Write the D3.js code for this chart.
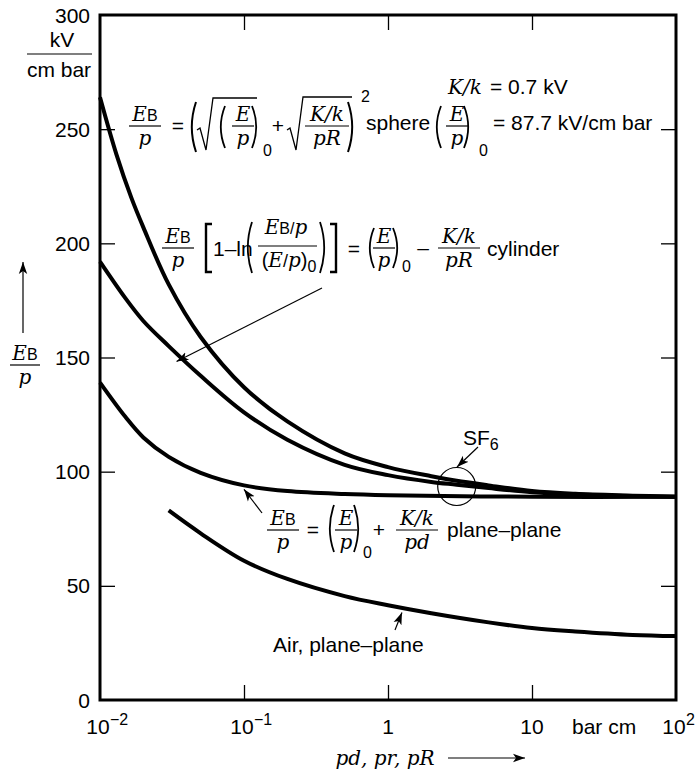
<!DOCTYPE html>
<html>
<head>
<meta charset="utf-8">
<script src="https://cdn.jsdelivr.net/npm/d3@7"></script>
<style>
  body { margin: 0; background: #fff; }
  text { font-family: "Liberation Sans", Arial, sans-serif; fill: #000; }
  .m { font-family: "DejaVu Serif", serif; font-style: italic; }
</style>
</head>
<body>
<script>
// breakdown field strength E_B/p (kV/cm bar) against pd, pr, pR (bar cm)
const sphereX = [0.01, 0.013, 0.0165, 0.02, 0.03, 0.05, 0.1, 0.2, 0.5, 1, 2, 3, 5, 10, 20, 50, 100];
const sphereY = [264, 239, 220, 207, 182, 159, 137, 122, 108, 102, 98, 96, 94, 91.5, 90.3, 89.5, 89];

const cylX = [0.01, 0.015, 0.02, 0.03, 0.05, 0.1, 0.2, 0.5, 1, 2, 3, 5, 10, 20, 50, 100];
const cylY = [192, 176, 166, 155, 142, 126, 114, 103, 98.5, 95.5, 94.3, 92.8, 91, 90, 89.3, 89];

const planeX = [0.01, 0.015, 0.02, 0.03, 0.05, 0.1, 0.2, 0.5, 1, 10, 100];
const planeY = [139, 124, 115, 106.5, 99.5, 94, 91.5, 90.2, 89.7, 89, 89];

const airX = [0.03, 0.05, 0.1, 0.2, 0.5, 1, 2, 5, 10, 20, 50, 100];
const airY = [83, 73, 61, 53, 45.5, 41.5, 38, 34, 31.5, 30, 28.5, 28];

const xTicks = [0.01, 0.1, 1, 10, 100];
const xTickBase = ["10", "10", "1", "10", "10"];
const xTickExp = ["\u22122", "\u22121", "", "", "2"];
const yTicks = [0, 50, 100, 150, 200, 250, 300];

const w = 695;
const h = 771;
const pLeft = 100, pRight = 676, pTop = 15, pBottom = 700;
const fs = 21;   // sans text size
const ms = 20;   // math italic size

const svg = d3.select("body")
        .append("svg")
        .attr("width", w)
        .attr("height", h);

const defs = svg.append("defs");
defs.append("marker")
    .attr("id", "head")
    .attr("viewBox", "0 0 10 10")
    .attr("refX", 10).attr("refY", 5)
    .attr("markerWidth", 12).attr("markerHeight", 12)
    .attr("markerUnits", "userSpaceOnUse")
    .attr("orient", "auto")
    .append("path").attr("d", "M0,1.5 L10,5 L0,8.5 L2.5,5 Z").attr("fill", "#000");

const xScale = d3.scaleLog().domain([0.01, 100]).range([pLeft, pRight]);
const yScale = d3.scaleLinear().domain([0, 300]).range([pBottom, pTop]);

// axes: ticks point inward on all four sides
const tick = 15;
svg.append("g").attr("transform", "translate(0," + pBottom + ")")
  .call(d3.axisBottom(xScale).tickValues(xTicks.slice(1, 4)).tickSize(-tick).tickFormat(""));
svg.append("g").attr("transform", "translate(0," + pTop + ")")
  .call(d3.axisTop(xScale).tickValues(xTicks.slice(1, 4)).tickSize(-tick).tickFormat(""));
svg.append("g").attr("transform", "translate(" + pLeft + ",0)")
  .call(d3.axisLeft(yScale).tickValues(yTicks.slice(1, 6)).tickSize(-tick).tickFormat(""));
svg.append("g").attr("transform", "translate(" + pRight + ",0)")
  .call(d3.axisRight(yScale).tickValues(yTicks.slice(1, 6)).tickSize(-tick).tickFormat(""));
svg.selectAll(".domain").remove();
svg.selectAll(".tick line").attr("stroke", "#000").attr("stroke-width", 1.3);

svg.append("rect")
  .attr("x", pLeft).attr("y", pTop)
  .attr("width", pRight - pLeft).attr("height", pBottom - pTop)
  .attr("fill", "none").attr("stroke", "#000").attr("stroke-width", 3);

// tick labels
svg.selectAll(".ylab").data(yTicks).enter().append("text")
  .attr("x", pLeft - 10).attr("y", d => yScale(d) + 7.5)
  .attr("text-anchor", "end").attr("font-size", fs)
  .text(d => d);

xTicks.forEach((v, i) => {
  svg.append("text").attr("x", xScale(v) - (xTickExp[i] ? 2 : 0)).attr("y", 734)
    .attr("font-size", fs).attr("text-anchor", "middle")
    .text(xTickBase[i]);
  if (xTickExp[i]) {
    svg.append("text").attr("x", xScale(v) + 10).attr("y", 725)
      .attr("font-size", 16).text(xTickExp[i]);
  }
});
svg.append("text").attr("x", 572).attr("y", 734).attr("font-size", fs).text("bar cm");

// y unit
svg.append("text").attr("x", 62).attr("y", 47).attr("font-size", fs).attr("text-anchor", "middle").text("kV");
svg.append("line").attr("x1", 27).attr("x2", 92).attr("y1", 54).attr("y2", 54).attr("stroke", "#000").attr("stroke-width", 1.2);
svg.append("text").attr("x", 59).attr("y", 77).attr("font-size", fs).attr("text-anchor", "middle").text("cm bar");

// curves
const line = d3.line()
  .x(d => xScale(d[0]))
  .y(d => yScale(d[1]))
  .curve(d3.curveCatmullRom.alpha(0.5));

[[sphereX, sphereY], [cylX, cylY], [planeX, planeY], [airX, airY]].forEach(s => {
  svg.append("path")
    .datum(s[0].map((x, i) => [x, s[1][i]]))
    .attr("d", line)
    .attr("fill", "none")
    .attr("stroke", "#000")
    .attr("stroke-width", 4);
});

// ---- little helpers for the formulas ----
function txt(x, y, s, size, cls, anchor) {
  return svg.append("text").attr("x", x).attr("y", y)
    .attr("font-size", size || fs)
    .attr("class", cls || null)
    .attr("text-anchor", anchor || "start")
    .text(s);
}
function hline(x1, x2, y, sw) {
  svg.append("line").attr("x1", x1).attr("x2", x2).attr("y1", y).attr("y2", y)
    .attr("stroke", "#000").attr("stroke-width", sw || 1.2);
}
// fraction: num and den are arrays of [text, cls, size, dy]
function frac(cx, y, num, den, wd) {
  hline(cx - wd / 2, cx + wd / 2, y);
  mathRow(cx, y - 5, num);
  mathRow(cx, y + 19, den);
}
function mathRow(cx, y, parts) {
  const t = svg.append("text").attr("x", cx).attr("y", y).attr("text-anchor", "middle");
  parts.forEach(p => {
    t.append("tspan").text(p[0])
      .attr("class", p[1] || null)
      .attr("font-size", p[2] || ms)
      .attr("dy", p[3] || null);
  });
}
function paren(x, y1, y2, dir, sw) {
  const b = dir * 6;
  svg.append("path")
    .attr("d", "M" + (x + b) + "," + y1 + " Q" + (x - b * 0.4) + "," + ((y1 + y2) / 2) + " " + (x + b) + "," + y2)
    .attr("fill", "none").attr("stroke", "#000").attr("stroke-width", sw || 1.8);
}
function bracket(x, y1, y2, dir) {
  const b = dir * 6;
  svg.append("path")
    .attr("d", "M" + (x + b) + "," + y1 + " L" + x + "," + y1 + " L" + x + "," + y2 + " L" + (x + b) + "," + y2)
    .attr("fill", "none").attr("stroke", "#000").attr("stroke-width", 2.4);
}
function root(x, yTop, yBot, x2) {
  svg.append("path")
    .attr("d", "M" + x + "," + (yBot - 20) + " L" + (x + 3) + "," + (yBot - 22) + " L" + (x + 9) + "," + yBot +
      " L" + (x + 16) + "," + yTop + " L" + x2 + "," + yTop)
    .attr("fill", "none").attr("stroke", "#000").attr("stroke-width", 1.3);
}
const EB = [["E", "m"], ["B", null, 16]];
const E = [["E", "m"]];
const P = [["p", "m"]];

// sphere formula
frac(145, 126, EB, P, 32);
txt(178, 133, "=", fs, null, "middle");
paren(190, 102, 152, 1, 2);
root(197, 98, 150, 257);
paren(219, 106, 148, 1);
frac(243, 126, E, P, 22);
paren(258, 106, 148, -1);
txt(263, 156, "0", 16);
txt(278, 133, "+", fs, null, "middle");
root(287, 97, 150, 352);
frac(327, 126, [["K/k", "m"]], [["pR", "m"]], 44);
paren(354, 102, 152, -1, 2);
txt(361, 102, "2", 16);
txt(366, 130, "sphere", fs);
paren(435, 106, 148, 1);
frac(457, 126, E, P, 22);
paren(470, 106, 148, -1);
txt(479, 156, "0", 16);
txt(493, 130, "= 87.7 kV/cm bar", fs);
txt(448, 94, "K/k", ms, "m");
txt(490, 94, "= 0.7 kV", fs);

// cylinder formula
frac(178, 248, EB, P, 32);
bracket(206, 224, 272, 1);
txt(213, 256, "1\u2013ln", fs);
paren(246, 222, 273, 1);
mathRow(286, 234, [["E", "m"], ["B/", null, 16], ["p", "m"]]);
hline(258, 317, 246);
mathRow(289, 267, [["(", null, 20], ["E", "m"], ["/", null, 18], ["p", "m"], [")", null, 20], ["0", null, 16, 5]]);
paren(326, 222, 273, -1);
bracket(336, 224, 272, -1);
txt(354, 256, "=", fs, null, "middle");
paren(368, 228, 268, 1);
frac(384, 248, E, P, 22);
paren(399, 228, 268, -1);
txt(402, 272, "0", 16);
txt(423, 255, "\u2013", fs, null, "middle");
frac(459, 248, [["K/k", "m"]], [["pR", "m"]], 42);
txt(487, 256, "cylinder", fs);

// plane-plane formula
frac(283, 530, EB, P, 32);
txt(313, 537, "=", fs, null, "middle");
paren(328, 505, 552, 1);
frac(346, 530, E, P, 22);
paren(360, 505, 552, -1);
txt(363, 558, "0", 16);
txt(379, 537, "+", fs, null, "middle");
frac(417, 530, [["K/k", "m"]], [["pd", "m"]], 42);
txt(447, 537, "plane\u2013plane", fs);

// air label
txt(273, 652, "Air, plane\u2013plane", fs);

// SF6 marker
svg.append("circle").attr("cx", xScale(3)).attr("cy", yScale(93.5)).attr("r", 19)
  .attr("fill", "none").attr("stroke", "#000").attr("stroke-width", 1.2);
const sf = txt(463, 445, "SF", fs);
sf.append("tspan").text("6").attr("font-size", 16).attr("dy", 5);

// arrows pointing at curves
function arrow(x1, y1, x2, y2) {
  svg.append("line").attr("x1", x1).attr("y1", y1).attr("x2", x2).attr("y2", y2)
    .attr("stroke", "#000").attr("stroke-width", 1.2).attr("marker-end", "url(#head)");
}
arrow(322, 288, xScale(0.034), yScale(150) + 4);
arrow(262, 513, xScale(0.1), yScale(94) + 4);
arrow(478, 447, 457, 467);
arrow(395, 630, xScale(1.25), yScale(40.5) + 5);

// axis titles
arrow(23, 333, 23, 262);
frac(25, 365, EB, P, 30);
txt(385, 765, "pd, pr, pR", ms, "m", "middle");
arrow(448, 758, 525, 758);
</script>
</body>
</html>
